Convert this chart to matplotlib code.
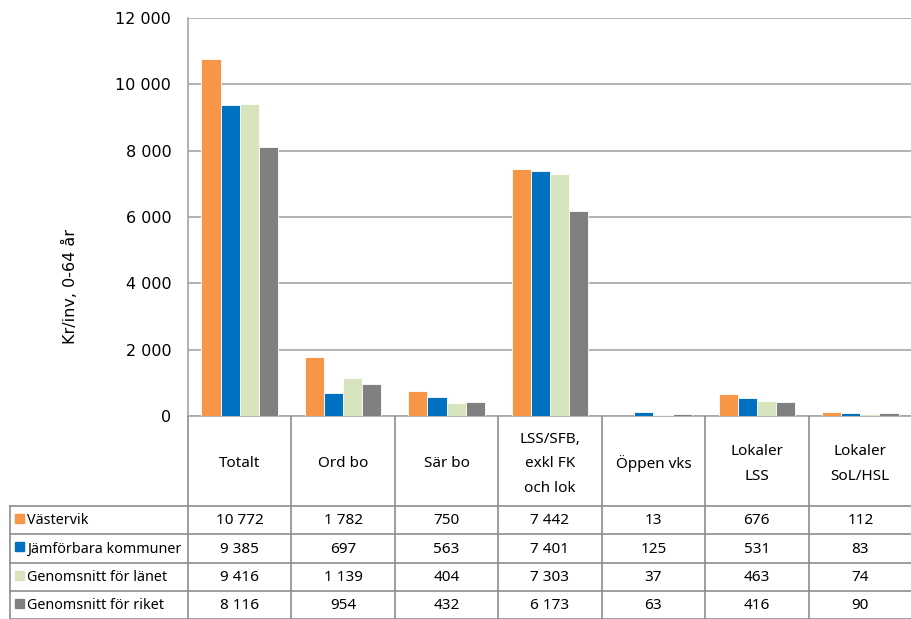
import matplotlib.pyplot as plt
import numpy as np

categories = ["Totalt", "Ord bo", "Sär bo", "LSS/SFB,\nexkl FK\noch lok",
              "Öppen vks", "Lokaler\nLSS", "Lokaler\nSoL/HSL"]
series = ["Västervik", "Jämförbara kommuner", "Genomsnitt för länet",
          "Genomsnitt för riket"]
vastervik = [10772, 1782, 750, 7442, 13, 676, 112]
jamforbara = [9385, 697, 563, 7401, 125, 531, 83]
lanet = [9416, 1139, 404, 7303, 37, 463, 74]
riket = [8116, 954, 432, 6173, 63, 416, 90]
values = [vastervik, jamforbara, lanet, riket]
colors = ["#F79646", "#0070C0", "#D7E4BD", "#808080"]
yticks = [0, 2000, 4000, 6000, 8000, 10000, 12000]
ylabel = "Kr/inv, 0-64 år"

W, H = 912, 619
fig = plt.figure(figsize=(W / 100, H / 100), dpi=100)
plt.rcParams["font.family"] = ["DejaVu Sans"]
tfont = ["Noto Sans", "DejaVu Sans"]

x0, x1 = 188, 912
ytop, ybot = 18, 416
ax = fig.add_axes([x0 / W, 1 - ybot / H, (x1 - x0) / W, (ybot - ytop) / H])

n = len(categories)
x = np.arange(n)
bw = 0.185
for i, (vals, c) in enumerate(zip(values, colors)):
    ax.bar(x + (i - 1.5) * bw, vals, bw, color=c, edgecolor="white", lw=0.6,
           zorder=3)

ax.set_xlim(-0.5, n - 0.5)
ax.set_ylim(0, 12000)
ax.set_yticks(yticks)
ax.set_yticklabels([f"{v:,}".replace(",", " ") for v in yticks], fontsize=11.5)
ax.set_xticks([])
ax.tick_params(axis="y", length=0, pad=12)
ax.grid(axis="y", color="#a6a6a6", lw=1.2, zorder=0)
for s in ["top", "right"]:
    ax.spines[s].set_visible(False)
ax.spines["left"].set_color("#a6a6a6")
ax.spines["bottom"].set_color("#a6a6a6")
ax.spines["left"].set_linewidth(1.2)
ax.spines["bottom"].set_linewidth(1.2)

fig.text(70 / W, 1 - 287 / H, ylabel, rotation=90, ha="center", va="center",
         fontsize=11.5)

# data table below the plot
tab = fig.add_axes([0, 0, 1, 1 - ybot / H])
tab.set_xlim(0, W)
tab.set_ylim(H, ybot)
tab.axis("off")
lc = "#8c8c8c"
colw = (x1 - x0) / n
hdr_bot = 506
rows = [506, 534, 563, 591, 619]
for k in range(n + 1):
    xx = x0 + k * colw
    tab.plot([xx, xx], [ybot, H], color=lc, lw=1.2)
tab.plot([10, 10], [hdr_bot, H], color=lc, lw=1.2)
for yy in rows:
    tab.plot([10, x1], [yy, yy], color=lc, lw=1.2)
for k, cat in enumerate(categories):
    cx = x0 + (k + 0.5) * colw
    tab.text(cx, (ybot + hdr_bot) / 2 + 3, cat, ha="center", va="center",
             fontsize=11, linespacing=1.85, family=tfont)
for r, (name, vals, c) in enumerate(zip(series, values, colors)):
    cy = (rows[r] + rows[r + 1]) / 2 + 1
    tab.add_patch(plt.Rectangle((15, cy - 7), 9, 9, color=c))
    tab.text(27, cy, name, ha="left", va="center", fontsize=10.3, family=tfont)
    for k, v in enumerate(vals):
        cx = x0 + (k + 0.5) * colw
        tab.text(cx, cy, f"{v:,}".replace(",", " "), ha="center", va="center",
                 fontsize=11, family=tfont)

fig.savefig("out.png", dpi=100)
